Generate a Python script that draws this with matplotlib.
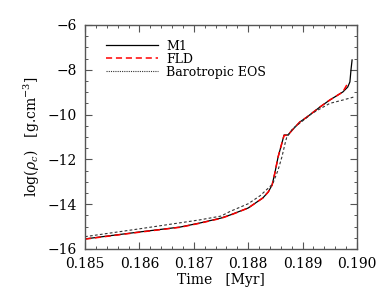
import matplotlib
matplotlib.use("Agg")
import matplotlib.pyplot as plt
from matplotlib.ticker import MultipleLocator

plt.rcParams["font.family"] = "DejaVu Serif"
plt.rcParams["mathtext.fontset"] = "dejavuserif"
plt.rcParams["font.size"] = 9.5

# Central density, log(rho_c) vs time [Myr]
t_m1 = [0.1850, 0.1860, 0.18675, 0.18711, 0.1875, 0.18767, 0.1880, 0.18827, 0.18837,
        0.18844, 0.18849, 0.18855, 0.18862, 0.18866, 0.18873, 0.18881, 0.18895,
        0.18908, 0.18932, 0.18950, 0.18974, 0.18983, 0.18987, 0.18989, 0.18991]
rho_m1 = [-15.55, -15.24, -15.02, -14.84, -14.62, -14.48, -14.17, -13.72, -13.45,
          -13.14, -12.61, -11.89, -11.27, -10.91, -10.91, -10.69, -10.33,
          -10.11, -9.66, -9.35, -8.99, -8.77, -8.54, -8.0, -7.56]

t_fld = [0.1850, 0.1860, 0.18675, 0.18711, 0.1875, 0.18767, 0.1880, 0.18827, 0.18837,
         0.18844, 0.18849, 0.18855, 0.18862, 0.18866, 0.18873, 0.18881, 0.18895,
         0.18908, 0.18932, 0.18950, 0.18974, 0.18983]
rho_fld = [-15.56, -15.25, -15.03, -14.85, -14.63, -14.49, -14.17, -13.72, -13.45,
           -13.14, -12.61, -11.89, -11.27, -10.93, -10.92, -10.69, -10.33,
           -10.11, -9.66, -9.35, -8.99, -8.6]

t_baro = [0.1850, 0.1860, 0.18711, 0.1875, 0.18767, 0.1880, 0.18822, 0.18845,
          0.18855, 0.18862, 0.18868, 0.18871, 0.18877, 0.18882, 0.18895, 0.18917,
          0.18950, 0.18974, 0.18995]
rho_baro = [-15.45, -15.1, -14.7, -14.53, -14.32, -13.98, -13.62, -13.1,
            -12.47, -11.89, -11.27, -11.0, -10.82, -10.62, -10.38, -9.95,
            -9.5, -9.35, -9.21]

fig = plt.figure(figsize=(3.82, 3.0), dpi=100)
ax = fig.add_axes([0.2225, 0.17, 0.712, 0.7467])

ax.plot(t_m1, rho_m1, color="black", lw=0.9, label="M1")
ax.plot(t_fld, rho_fld, color="red", lw=1.1, ls=(0, (4, 2.5)), label="FLD")
ax.plot(t_baro, rho_baro, color="#333333", lw=0.8, ls=(0, (2.5, 2)), label="Barotropic EOS")

ax.set_xlim(0.185, 0.190)
ax.set_ylim(-16, -6)
ax.xaxis.set_major_locator(MultipleLocator(0.001))
ax.xaxis.set_minor_locator(MultipleLocator(0.0002))
ax.yaxis.set_major_locator(MultipleLocator(2))
ax.yaxis.set_minor_locator(MultipleLocator(0.5))
ax.xaxis.set_major_formatter(plt.FormatStrFormatter("%.3f"))
ax.yaxis.set_major_formatter(plt.FuncFormatter(lambda v, p: "\u2212%d" % abs(v) if v < 0 else "%d" % v))
ax.tick_params(which="both", direction="in", top=True, right=True, color="#555555")
ax.tick_params(which="major", length=5, width=0.8, labelsize=10, pad=6)
ax.tick_params(which="minor", length=2.5, width=0.7)
for s in ax.spines.values():
    s.set_color("#555555")
    s.set_linewidth(1.0)

ax.set_xlabel("Time   [Myr]", fontsize=10, labelpad=1)
ax.set_ylabel(r"$\log(\rho_c)$   [g.cm$^{-3}$]", fontsize=10, labelpad=4)

# legend handles drawn dotted like the reference key
handles, labels = ax.get_legend_handles_labels()
leg = ax.legend(handles, labels, loc="upper left", frameon=False, fontsize=9,
                handlelength=4.1, handletextpad=0.7, labelspacing=0.0,
                borderaxespad=0.6, bbox_to_anchor=(0.033, 0.99))
leg.get_lines()[2].set_linestyle((0, (1, 1)))

fig.savefig("out.png", dpi=100)
